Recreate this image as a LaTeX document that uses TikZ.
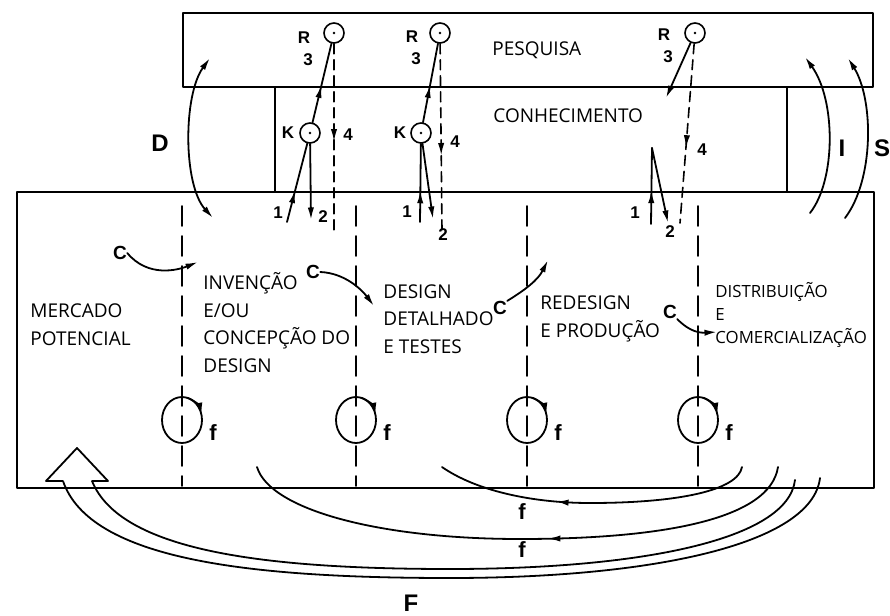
\documentclass[tikz,border=0pt]{standalone}
\usepackage{fontspec}
\setmainfont{Open Sans}
\newfontfamily\tagfont{Liberation Sans}
\usepackage{tikz}
\usetikzlibrary{arrows.meta,calc,positioning,decorations.markings,shapes.geometric}
\tikzset{
  >={Latex[length=2.2mm,width=1.1mm]},
  every picture/.style={line cap=round, line join=round},
  box/.style={line width=1.2pt},
  thinbox/.style={line width=0.8pt},
  flow/.style={line width=0.9pt},
  chain/.style={line width=0.9pt, dash pattern=on 10pt off 5pt},
  link/.style={line width=0.8pt, dash pattern=on 5pt off 3pt},
  stage/.style={font=\fontsize{9.5}{13.75}\selectfont, align=left, anchor=base west, inner sep=0pt},
  smallstage/.style={stage, font=\fontsize{8.4}{11.5}\selectfont},
  ctag/.style={font=\tagfont\bfseries\fontsize{9.5}{11}\selectfont, inner sep=0pt},
  ftag/.style={font=\tagfont\bfseries\fontsize{11}{13}\selectfont, inner sep=0pt},
  bigtag/.style={font=\tagfont\bfseries\fontsize{12}{14}\selectfont, inner sep=0pt},
  numtag/.style={font=\tagfont\bfseries\fontsize{8.5}{10}\selectfont, inner sep=0pt},
  dotnode/.style={circle, draw, line width=0.8pt, minimum size=10pt, inner sep=0pt,
    path picture={\fill (path picture bounding box.center) circle (0.7pt);}},
  fcirc/.style={ellipse, draw, line width=0.9pt, minimum width=20pt, minimum height=23pt, inner sep=0pt},
  midarrow/.style={postaction={decorate}, decoration={markings, mark=at position #1 with {\arrow{>}}}},
}

\begin{document}
\begin{tikzpicture}[x=0.5pt, y=-0.5pt]
\useasboundingbox (0,0) rectangle (890,616);
% the three layers
\draw[box] (183,13) rectangle (873,87);
\draw[box] (17,192) rectangle (874,488);
\draw[thinbox] (275,87) -- (275,192) (787,87) -- (787,192);
\node[stage] (pesq) at (492,55) {PESQUISA};
\node[stage] (conh) at (493,122) {CONHECIMENTO};
% stages of the central chain (anchored on the last line)
\node[stage] (merc) at (30,345) {MERCADO\\POTENCIAL};
\node[stage] (inv) at (203,372) {INVENÇÃO\\E/OU\\CONCEPÇÃO DO\\DESIGN};
\node[stage] (det) at (383,353) {DESIGN\\DETALHADO\\E TESTES};
\node[stage] (red) at (540,337) {REDESIGN\\E PRODUÇÃO};
\node[smallstage] (dist) at (715,343) {DISTRIBUIÇÃO\\E\\COMERCIALIZAÇÃO};
% stage borders with feedback loops f
\foreach \x [count=\i] in {182,356,527,698} {
  \draw[chain] (\x,206) -- (\x,486);
  \node[fcirc] (f\i) at (\x,420) {};
  \node[ftag] (fl\i) at (\x+31,433) {f};
  \draw[flow,->] ($(f\i.center)+(75:10pt and 11.5pt)$) arc[start angle=75, end angle=12, x radius=10pt, y radius=11.5pt];
}
% C arrows
\node[ctag] (c1) at (120,253) {C};
\node[ctag] (c2) at (313,272) {C};
\node[ctag] (c3) at (500,308) {C};
\node[ctag] (c4) at (670,312) {C};
\coordinate (c1e) at (198,262);
\coordinate (c2e) at (374,306);
\coordinate (c3e) at (548,260);
\coordinate (c4e) at (717,332);
\draw[flow,->] (c1.east) .. controls (148,278) and (178,270) .. (c1e);
\draw[flow,->] (c2.east) .. controls (345,273) and (362,290) .. (c2e);
\draw[flow,->] (c3.north east) .. controls (525,290) and (538,280) .. (c3e);
\draw[flow,->] (c4.south east) .. controls (690,332) and (700,333) .. (c4e);
% research and knowledge points
\node[dotnode] (r1) at (334,33) {};
\node[dotnode] (r2) at (440,33) {};
\node[dotnode] (r3) at (695,33) {};
\node[dotnode] (k1) at (310,133) {};
\node[dotnode] (k2) at (421,133) {};
\coordinate (k3) at (652,148);
\foreach \i/\x/\y in {1/304/38, 2/412/37, 3/664/35} {
  \node[numtag] (rl\i) at (\x,\y) {R};
  \node[numtag] (tl\i) at (\x+4,\y+22) {3};
}
\node[numtag] (kl1) at (288,133) {K};
\node[numtag] (kl2) at (400,133) {K};
\coordinate (in1) at (287,222);
\coordinate (in2) at (420,222);
\coordinate (in3) at (651,224);
\coordinate (out1) at (311,220);
\coordinate (out2) at (433,219);
\coordinate (out3) at (668,223);
\coordinate (d1) at (334,232);
\coordinate (d2) at (442,230);
\coordinate (d3) at (680,223);
\coordinate (c3r) at (666,98);
\draw[flow, midarrow=0.4] (in1) -- (k1);
\draw[flow, midarrow=0.4] (in2) -- (k2);
\draw[flow, midarrow=0.44] (in3) -- (k3);
\draw[flow,->] (k1) -- (out1);
\draw[flow,->] (k2) -- (out2);
\draw[flow,->] (k3) -- (out3);
\draw[flow, midarrow=0.47] (k1) -- (r1);
\draw[flow, midarrow=0.47] (k2) -- (r2);
\draw[flow,->] (r3) -- (c3r);
\draw[link, midarrow=0.52] (r1) -- (d1);
\draw[link, midarrow=0.6] (r2) -- (d2);
\draw[link, midarrow=0.58] (r3) -- (d3);
\foreach \i/\x/\y in {1/278/213, 2/407/212, 3/635/213} \node[numtag] (one\i) at (\x,\y) {1};
\foreach \i/\x/\y in {1/323/217, 2/443/235, 3/670/232} \node[numtag] (two\i) at (\x,\y) {2};
\foreach \i/\x/\y in {1/348/135, 2/455/142, 3/702/150} \node[numtag] (four\i) at (\x,\y) {4};
% D, I and S links to research
\node[bigtag] (dl) at (160,143) {D};
\node[bigtag] (il) at (842,148) {I};
\node[bigtag] (sl) at (882,148) {S};
\coordinate (dtop) at (210,58);
\coordinate (dbot) at (213,218);
\coordinate (itop) at (805,57);
\coordinate (ibot) at (810,213);
\coordinate (stop) at (848,58);
\coordinate (sbot) at (845,218);
\draw[flow,<->] (dtop) .. controls (183,95) and (183,185) .. (dbot);
\draw[flow,->] (ibot) .. controls (836,180) and (836,100) .. (itop);
\draw[flow,->] (sbot) .. controls (874,180) and (874,100) .. (stop);
% feedback loops below the chain
\coordinate (fa1) at (742,467);
\coordinate (fa2) at (442,467);
\coordinate (fb1) at (778,467);
\coordinate (fb2) at (257,467);
\draw[flow, midarrow=0.62] (fa1) .. controls (738,490) and (680,503) .. (590,503)
  .. controls (530,503) and (475,490) .. (fa2);
\draw[flow, midarrow=0.45] (fb1) .. controls (770,520) and (660,539) .. (520,539)
  .. controls (380,539) and (270,510) .. (fb2);
\node[ftag] (fa) at (522,512) {f};
\node[ftag] (fb) at (522,550) {f};
% big feedback F
\coordinate (fo1) at (820,478);
\coordinate (fo2) at (63,481);
\coordinate (fi1) at (795,480);
\coordinate (fi2) at (92,481);
\draw[flow] (fo1) .. controls (812,545) and (650,578) .. (450,578)
  .. controls (250,578) and (90,560) .. (fo2);
\draw[flow] (fi1) .. controls (788,540) and (640,569) .. (450,569)
  .. controls (260,569) and (120,550) .. (fi2);
\draw[flow, fill=white] (fo2) -- (46,481) -- (77,448) -- (108,481) -- (fi2);
\node[bigtag] (fl) at (411,603) {F};
\end{tikzpicture}
\end{document}
